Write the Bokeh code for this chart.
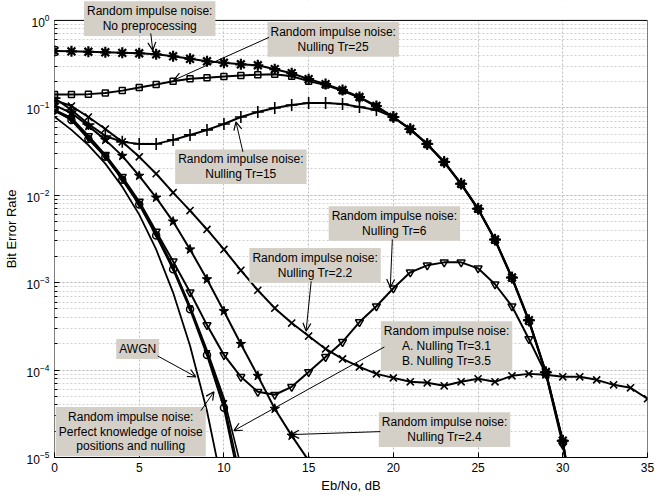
from bokeh.plotting import figure
from bokeh.models import Label, Arrow, OpenHead, FixedTicker, BoxAnnotation
from bokeh.embed import file_html
from bokeh.resources import INLINE

# ---------------- data (Eb/No in dB, bit error rate) ----------------
x_main = list(range(0, 32))
ber_none = [0.447, 0.443, 0.438, 0.432, 0.426, 0.421, 0.410, 0.389, 0.364, 0.341,
            0.328, 0.315, 0.307, 0.277, 0.249, 0.213, 0.187, 0.160, 0.133, 0.105,
            0.0786, 0.0573, 0.0387, 0.0241, 0.0136, 0.00703, 0.00312, 0.00115,
            3.73e-4, 9.5e-5, 1.56e-5, 1e-6]
ber_tr25 = [0.142, 0.142, 0.1435, 0.1474, 0.1574, 0.1713, 0.1852, 0.2019, 0.2145, 0.2202,
            0.2284, 0.2345, 0.2394, 0.2427, 0.2302, 0.202, 0.182, 0.157, 0.131, 0.1035,
            0.0775, 0.0565, 0.0380, 0.0237, 0.0133, 0.0069, 0.00305, 0.00112,
            3.6e-4, 9.2e-5, 1.5e-5, 1e-6]
ber_tr15 = [0.129, 0.0944, 0.0654, 0.0477, 0.0408, 0.0387, 0.0387, 0.0430, 0.0490, 0.0559,
            0.0654, 0.0786, 0.0896, 0.0995, 0.1076, 0.1134, 0.1134, 0.1105, 0.1021, 0.0944,
            0.0786, 0.0570, 0.0385, 0.0240, 0.0135, 0.0070, 0.0031, 0.00114,
            3.7e-4, 9.4e-5, 1.55e-5, 1e-6]
ber_tr6 = [0.0944, 0.0765, 0.0477, 0.0290, 0.01628, 0.00846, 0.00385, 0.001752, 7.77e-4, 3.27e-4,
           1.49e-4, 8.37e-5, 5.64e-5, 5.22e-5, 6.43e-5, 9.5e-5, 1.414e-4, 2.10e-4, 3.54e-4, 5.38e-4,
           8.64e-4, 1.313e-3, 1.578e-3, 1.707e-3, 1.707e-3, 1.459e-3, 9.59e-4, 5.38e-4,
           2.27e-4, 9.05e-5, 1.4e-5, 1e-6]

x_tr22 = list(range(0, 36))
ber_tr22 = [0.1227, 0.1048, 0.0786, 0.0573, 0.0408, 0.0275, 0.01762, 0.01071, 0.00668, 0.00406,
            0.00240, 0.001384, 8.19e-4, 5.11e-4, 3.45e-4, 2.45e-4, 1.744e-4, 1.341e-4, 1.088e-4, 9.05e-5,
            8.15e-5, 7.34e-5, 7.15e-5, 6.61e-5, 7.34e-5, 7.94e-5, 7.34e-5, 8.59e-5, 9.05e-5, 8.82e-5,
            8.37e-5, 8.37e-5, 7.73e-5, 6.78e-5, 6.27e-5, 4.70e-5]

x_tr24 = list(range(0, 17))
ber_tr24 = [0.1076, 0.0872, 0.0620, 0.0430, 0.0282, 0.0167, 0.00939, 0.00500, 0.00240, 0.001093,
            4.72e-4, 1.99e-4, 8.59e-5, 3.61e-5, 1.78e-5, 9.2e-6, 3e-6]

x_perfect = list(range(0, 12))
ber_perfect = [0.0944, 0.0726, 0.0441, 0.0275, 0.01505, 0.00782, 0.00347, 0.001421, 4.98e-4, 1.49e-4,
               3.71e-5, 4.43e-6]
x_a = list(range(0, 12))
ber_a = [0.092, 0.0735, 0.0445, 0.0278, 0.0153, 0.0080, 0.0036, 0.00150, 5.2e-4, 1.6e-4, 4.3e-5, 5.5e-6]
x_b = list(range(0, 13))
ber_b = [0.093, 0.074, 0.0448, 0.028, 0.0155, 0.0081, 0.00365, 0.00152, 5.4e-4, 1.7e-4, 4.8e-5, 8e-6, 5e-7]
x_awgn = list(range(0, 11))
ber_awgn = [0.079, 0.056, 0.0375, 0.023, 0.0125, 0.006, 0.0024, 7.7e-4, 1.9e-4, 3.4e-5, 3.9e-6]

x_ticks = [0, 5, 10, 15, 20, 25, 30, 35]

FONT = "Liberation Sans"
BOX = "#d4d0c8"
Y_MIN, Y_MAX, Y_TOP_PAD = 1e-5, 1.0, 1.69   # visible axis box is 1e-5..1; pad lets labels sit above it

p = figure(width=663, height=495, x_range=(0, 35), y_range=(Y_MIN, Y_TOP_PAD),
           y_axis_type="log", output_backend="svg", toolbar_location=None,
           min_border_left=54, min_border_right=16, min_border_top=0, min_border_bottom=36)
p.background_fill_color = "white"
p.border_fill_color = "white"
p.outline_line_color = None

# axes
p.xaxis.ticker = FixedTicker(ticks=x_ticks)
for ax in (p.xaxis[0], p.yaxis[0]):
    ax.major_label_text_font = FONT
    ax.major_label_text_font_size = "12px"
    ax.major_label_text_color = "black"
    ax.axis_label_text_font = FONT
    ax.axis_label_text_font_size = "13px"
    ax.axis_label_text_font_style = "normal"
    ax.axis_label_text_color = "black"
    ax.major_tick_in = 5
    ax.major_tick_out = 0
    ax.minor_tick_out = 0
p.xaxis.axis_line_color = "black"
p.yaxis.axis_line_color = None
p.xaxis.minor_tick_in = 0
p.yaxis.minor_tick_in = 3
p.xaxis.axis_label = "Eb/No, dB"
p.yaxis.axis_label = "Bit Error Rate"
p.xaxis.axis_label_standoff = 3
p.yaxis.axis_label_standoff = 5

# grid
p.xgrid.grid_line_color = "#bdbdbd"
p.xgrid.grid_line_dash = "2 2"
p.ygrid.grid_line_color = "#bdbdbd"
p.ygrid.grid_line_dash = "2 2"
p.ygrid.minor_grid_line_color = "#d0d0d0"
p.ygrid.minor_grid_line_dash = "2 2"

LW = 2
# curves
p.line(x_main, ber_none, line_color="black", line_width=LW)
p.scatter(x_main, ber_none, marker="asterisk", size=11, line_color="black", line_width=2.2)

p.line(x_main, ber_tr25, line_color="black", line_width=LW)
p.scatter(x_main, ber_tr25, marker="square", size=6, line_color="black", fill_color=None, line_width=1.5)

p.line(x_main, ber_tr15, line_color="black", line_width=LW)
p.scatter(x_main, ber_tr15, marker="cross", size=12, line_color="black", line_width=1.6)

p.line(x_tr22, ber_tr22, line_color="black", line_width=LW)
p.scatter(x_tr22, ber_tr22, marker="x", size=10, line_color="black", line_width=1.6)

p.line(x_main, ber_tr6, line_color="black", line_width=LW)
p.scatter(x_main, ber_tr6, marker="inverted_triangle", size=8, line_color="black",
          fill_color=None, line_width=1.5)

p.line(x_tr24, ber_tr24, line_color="black", line_width=LW)
p.scatter(x_tr24, ber_tr24, marker="star", size=10, line_color="black", fill_color="black")

p.line(x_a, ber_a, line_color="black", line_width=1.6)
p.scatter(x_a, ber_a, marker="inverted_triangle", size=6, line_color="black", fill_color="black")
p.line(x_b, ber_b, line_color="black", line_width=1.6)

p.line(x_perfect, ber_perfect, line_color="black", line_width=LW)
p.scatter(x_perfect, ber_perfect, marker="circle", size=7, line_color="black",
          fill_color=None, line_width=1.5)

p.line(x_awgn, ber_awgn, line_color="black", line_width=1.8)

# white band above the axis box, then the axis box outline
p.add_layout(BoxAnnotation(bottom=Y_MAX, fill_color="white", fill_alpha=1, line_color=None))
p.add_layout(BoxAnnotation(left=0, right=35, bottom=Y_MIN, top=Y_MAX, fill_alpha=0,
                           line_color="black", line_width=1, line_alpha=1))

# annotations: (text, x, y)
labels = [
    ("Random impulse noise:\nNo preprocessing", 5.62, 1.05),
    ("Random impulse noise:\nNulling Tr=25", 16.45, 0.6075),
    ("Random impulse noise:\nNulling Tr=15", 11.0, 0.0212),
    ("Random impulse noise:\nNulling Tr=6", 20.06, 0.00475),
    ("Random impulse noise:\nNulling Tr=2.2", 15.38, 0.001578),
    ("Random impulse noise:\nA. Nulling Tr=3.1\nB. Nulling Tr=3.5", 23.14, 1.886e-4),
    ("Random impulse noise:\nNulling Tr=2.4", 23.02, 2.08e-5),
    ("AWGN", 4.91, 1.744e-4),
    ("Random impulse noise:\nPerfect knowledge of noise\npositions and nulling", 4.50, 1.977e-5),
]
for txt, lx, ly in labels:
    p.add_layout(Label(x=lx, y=ly, text=txt, text_align="center", text_baseline="middle",
                       text_font=FONT, text_font_size="12px", text_color="black",
                       text_line_height=1.05, background_fill_color=BOX, padding=3))

arrows = [
    (5.68, 0.711, 5.80, 0.455),
    (12.66, 0.640, 7.04, 0.2074),
    (11.12, 0.0314, 10.71, 0.0689),
    (19.94, 0.00312, 19.82, 8.86e-4),
    (15.15, 0.001037, 14.85, 2.795e-4),
    (19.47, 1.837e-4, 10.59, 2.03e-5),
    (19.23, 1.977e-5, 13.96, 1.828e-5),
    (6.09, 1.45e-4, 8.34, 8.37e-5),
    (8.64, 3.43e-5, 9.41, 5.64e-5),
]
for xs, ys, xe, ye in arrows:
    p.add_layout(Arrow(x_start=xs, y_start=ys, x_end=xe, y_end=ye, line_width=1, line_color="black",
                       end=OpenHead(size=8, line_width=1.2, line_color="black")))

open("out.html", "w").write(file_html(p, INLINE))
